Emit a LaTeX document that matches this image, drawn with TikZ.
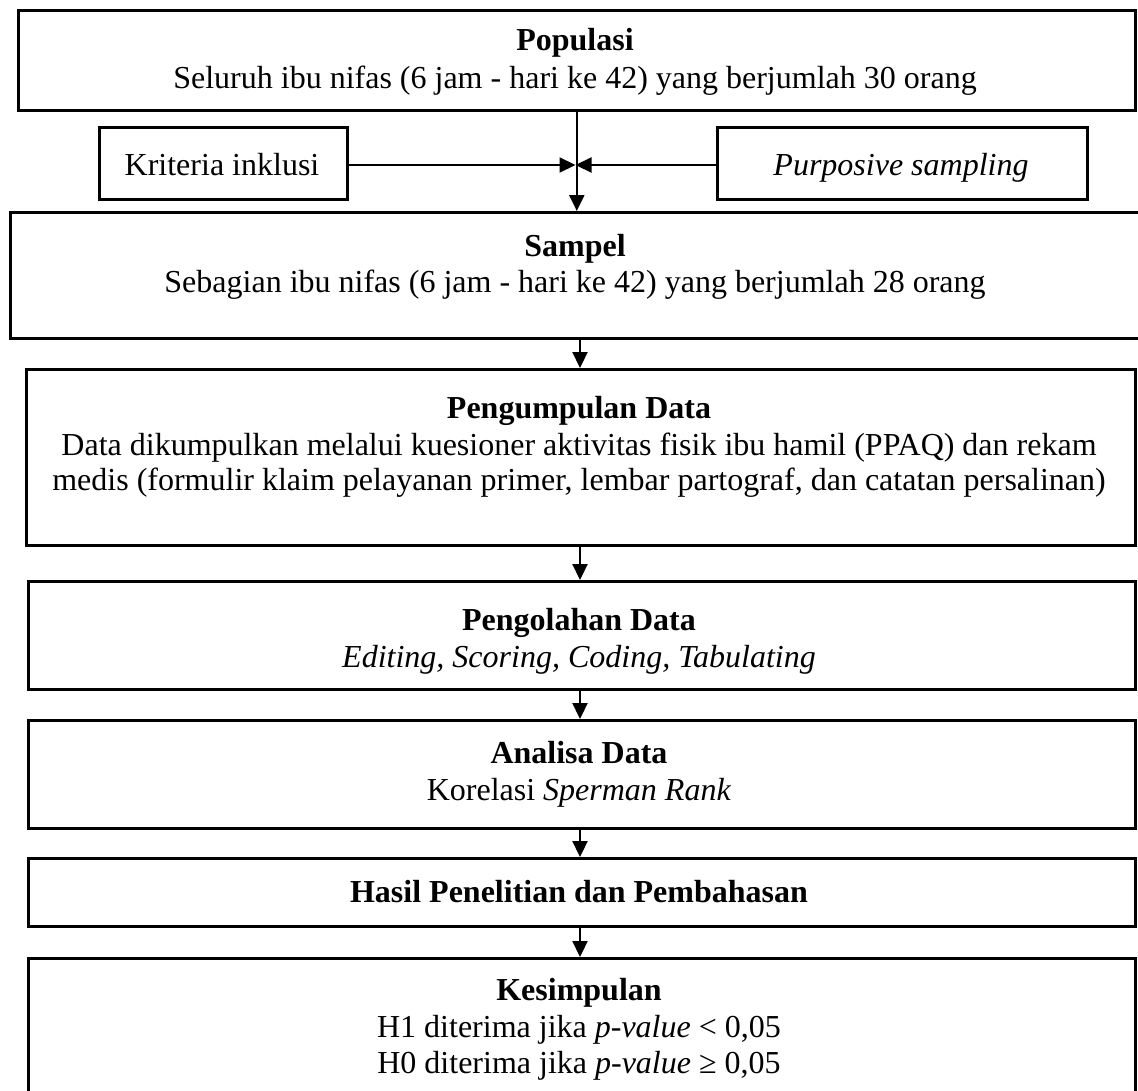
\documentclass[tikz,border=0pt]{standalone}
\usepackage{fontspec}
\setmainfont{Liberation Serif}
\usetikzlibrary{arrows.meta}
\begin{document}
\begin{tikzpicture}[x=1pt,y=-1pt,
  box/.style={draw, line width=2.6pt, rectangle, inner sep=0pt, anchor=north west},
  txt/.style={anchor=base, inner sep=0pt, font=\fontsize{32}{37}\selectfont},
  ttl/.style={anchor=base, inner sep=0pt, font=\fontsize{32}{37}\selectfont\bfseries},
  arr/.style={line width=2.2pt, -{Triangle[length=16pt,width=15pt]}}]
\useasboundingbox (0,0) rectangle (1138,1090);
% boxes
\node[box, minimum width=1117pt, minimum height=100pt] (pop) at (17,9) {};
\node[box, minimum width=248pt, minimum height=72pt] (kri) at (98,126) {};
\node[box, minimum width=370pt, minimum height=72pt] (pur) at (716,126) {};
\node[box, minimum width=1150pt, minimum height=126pt] (sam) at (9,211) {};
\node[box, minimum width=1109pt, minimum height=176pt] (pen) at (25,368) {};
\node[box, minimum width=1107pt, minimum height=108pt] (olah) at (27,580) {};
\node[box, minimum width=1107pt, minimum height=108pt] (ana) at (27,719) {};
\node[box, minimum width=1107pt, minimum height=68pt] (has) at (27,857) {};
\node[box, minimum width=1107pt, minimum height=150pt] (kes) at (27,957) {};
% texts
\node[ttl] (popT) at (575,50) {Populasi};
\node[txt] (popS) at (575,88) {Seluruh ibu nifas (6 jam - hari ke 42) yang berjumlah 30 orang};
\node[txt] (kriT) at (222,175) {Kriteria inklusi};
\node[txt] (purT) at (901,175) {\textit{Purposive sampling}};
\node[ttl] (samT) at (575,256) {Sampel};
\node[txt] (samS) at (575,292) {Sebagian ibu nifas (6 jam - hari ke 42) yang berjumlah 28 orang};
\node[ttl] (penT) at (579,418) {Pengumpulan Data};
\node[txt] (penA) at (579,455) {Data dikumpulkan melalui kuesioner aktivitas fisik ibu hamil (PPAQ) dan rekam};
\node[txt] (penB) at (579,490) {medis (formulir klaim pelayanan primer, lembar partograf, dan catatan persalinan)};
\node[ttl] (olahT) at (579,630) {Pengolahan Data};
\node[txt] (olahS) at (579,667) {\textit{Editing, Scoring, Coding, Tabulating}};
\node[ttl] (anaT) at (579,763) {Analisa Data};
\node[txt] (anaS) at (579,800) {Korelasi \textit{Sperman Rank}};
\node[ttl] (hasT) at (579,902) {Hasil Penelitian dan Pembahasan};
\node[ttl] (kesT) at (579,1000) {Kesimpulan};
\node[txt] (kesA) at (579,1037) {H1 diterima jika \textit{p-value} < 0,05};
\node[txt] (kesB) at (579,1073) {H0 diterima jika \textit{p-value} ≥ 0,05};
% connectors
\coordinate (join) at (575.5,165);
\coordinate (ax) at (580,0);
\draw[arr] (kri.east |- join) -- (join);
\draw[arr] (pur.west |- join) -- (join);
\draw[arr] (pop.south) -- (pop.south |- sam.north);
\draw[arr] (sam.south -| ax) -- (pen.north -| ax);
\draw[arr] (pen.south -| ax) -- (olah.north -| ax);
\draw[arr] (olah.south -| ax) -- (ana.north -| ax);
\draw[arr] (ana.south -| ax) -- (has.north -| ax);
\draw[arr] (has.south -| ax) -- (kes.north -| ax);
\end{tikzpicture}
\end{document}
